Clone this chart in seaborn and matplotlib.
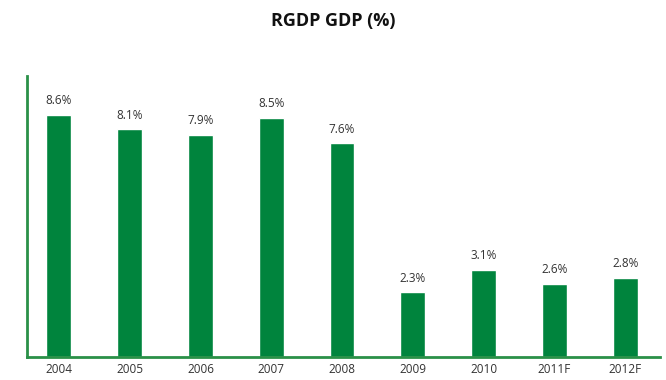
import matplotlib
matplotlib.use("Agg")
import matplotlib.pyplot as plt
import seaborn as sns
import pandas as pd

years = ["2004", "2005", "2006", "2007", "2008", "2009", "2010", "2011F", "2012F"]
growth = [8.6, 8.1, 7.9, 8.5, 7.6, 2.3, 3.1, 2.6, 2.8]

df = pd.DataFrame({"year": years, "growth": growth})

sns.set_theme(style="white")
plt.rcParams["font.family"] = ["Open Sans", "DejaVu Sans"]

green = "#00843D"

fig = plt.figure(figsize=(6.66, 3.80), dpi=100)
ax = fig.add_axes([0.0405, 0.0605, 0.9505, 0.7395])

sns.barplot(data=df, x="year", y="growth", color=green, saturation=1,
            width=0.35, ax=ax)

for i, v in enumerate(growth):
    ax.text(i, v + 0.28, f"{v}%", ha="center", va="bottom",
            fontsize=8.5, color="#333333")

ax.set_xlim(-0.45, 8.49)
ax.set_ylim(0, 10)
ax.set_xlabel("")
ax.set_ylabel("")
ax.set_yticks([])
ax.tick_params(axis="x", length=0, labelsize=8.5, colors="#333333", pad=4)

for side in ("top", "right"):
    ax.spines[side].set_visible(False)
for side in ("left", "bottom"):
    ax.spines[side].set_color("#2a9048")
    ax.spines[side].set_linewidth(2)

fig.text(0.5, 0.945, "RGDP GDP (%)", ha="center", va="center",
         fontsize=13, fontweight="bold", color="#111111")

fig.savefig("out.png", dpi=100)
